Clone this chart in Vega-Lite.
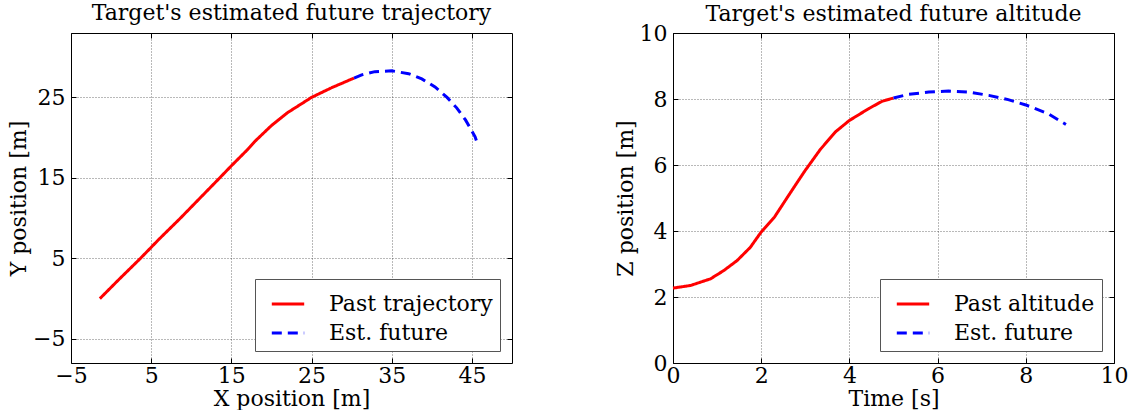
{
  "$schema": "https://vega.github.io/schema/vega-lite/v6.json",
  "background": "white",
  "padding": {"left": 7, "top": 1, "right": 0, "bottom": 0},
  "spacing": 100,
  "config": {
    "font": "DejaVu Serif",
    "view": {"stroke": "#000", "strokeWidth": 1},
    "style": {
      "guide-label": {"font": "DejaVu Serif", "fontSize": 22, "fill": "#000"},
      "guide-title": {"font": "DejaVu Serif", "fontSize": 22, "fontWeight": "normal", "fill": "#000"},
      "group-title": {"font": "DejaVu Serif", "fontSize": 22, "fontWeight": "normal", "fill": "#000"}
    },
    "title": {"font": "DejaVu Serif", "fontSize": 22, "fontWeight": "normal", "color": "#000", "anchor": "middle", "frame": "group"},
    "axis": {
      "labelFont": "DejaVu Serif", "labelFontSize": 22, "labelColor": "#000",
      "titleFont": "DejaVu Serif", "titleFontSize": 22, "titleFontWeight": "normal", "titleColor": "#000",
      "domain": false, "ticks": true, "tickColor": "#000", "tickSize": -5,
      "titlePadding": 2,
      "gridColor": "#000", "gridOpacity": 0.55, "gridDash": [1, 2], "gridWidth": 1,
      "labelFlush": false, "labelOverlap": false, "labelBound": false
    },
    "axisX": {"labelPadding": 7},
    "axisY": {"labelPadding": 11},
    "legend": {
      "orient": "bottom-right", "offset": 12, "title": null,
      "fillColor": "#fff", "strokeColor": "#555", "padding": 7, "cornerRadius": 0,
      "labelFont": "DejaVu Serif", "labelFontSize": 22, "labelColor": "#000", "labelLimit": 0,
      "symbolType": "stroke", "symbolStrokeWidth": 3, "symbolSize": 1050,
      "rowPadding": 0, "labelOffset": 23, "symbolOffset": 8
    },
    "line": {"strokeWidth": 3}
  },
  "resolve": {"scale": {"color": "independent", "strokeDash": "independent"}},
  "hconcat": [
    {
      "width": 441,
      "height": 330,
      "title": {"text": "Target's estimated future trajectory", "offset": 7.5},
      "data": {
        "values": [
          {"i": 0, "x": -1.4, "y": 0.0, "s": "Past trajectory"},
          {"i": 1, "x": 1.0, "y": 2.4, "s": "Past trajectory"},
          {"i": 2, "x": 3.66, "y": 5.0, "s": "Past trajectory"},
          {"i": 3, "x": 6.0, "y": 7.4, "s": "Past trajectory"},
          {"i": 4, "x": 8.6, "y": 9.95, "s": "Past trajectory"},
          {"i": 5, "x": 11.0, "y": 12.4, "s": "Past trajectory"},
          {"i": 6, "x": 13.5, "y": 14.95, "s": "Past trajectory"},
          {"i": 7, "x": 15.0, "y": 16.5, "s": "Past trajectory"},
          {"i": 8, "x": 16.9, "y": 18.4, "s": "Past trajectory"},
          {"i": 9, "x": 18.0, "y": 19.6, "s": "Past trajectory"},
          {"i": 10, "x": 20.0, "y": 21.5, "s": "Past trajectory"},
          {"i": 11, "x": 22.0, "y": 23.1, "s": "Past trajectory"},
          {"i": 12, "x": 25.0, "y": 25.0, "s": "Past trajectory"},
          {"i": 13, "x": 27.5, "y": 26.2, "s": "Past trajectory"},
          {"i": 14, "x": 30.3, "y": 27.4, "s": "Past trajectory"},
          {"i": 15, "x": 30.3, "y": 27.4, "s": "Est. future"},
          {"i": 16, "x": 31.25, "y": 27.8, "s": "Est. future"},
          {"i": 17, "x": 32.9, "y": 28.2, "s": "Est. future"},
          {"i": 18, "x": 35.0, "y": 28.3, "s": "Est. future"},
          {"i": 19, "x": 37.1, "y": 27.95, "s": "Est. future"},
          {"i": 20, "x": 38.75, "y": 27.3, "s": "Est. future"},
          {"i": 21, "x": 40.4, "y": 26.3, "s": "Est. future"},
          {"i": 22, "x": 41.9, "y": 25.0, "s": "Est. future"},
          {"i": 23, "x": 43.1, "y": 23.7, "s": "Est. future"},
          {"i": 24, "x": 44.2, "y": 22.2, "s": "Est. future"},
          {"i": 25, "x": 45.4, "y": 20.1, "s": "Est. future"},
          {"i": 26, "x": 45.6, "y": 19.5, "s": "Est. future"}
        ]
      },
      "resolve": {"axis": {"x": "independent", "y": "independent"}},
      "layer": [
        {
          "mark": {"type": "line", "strokeWidth": 3},
          "encoding": {
            "x": {"field": "x", "type": "quantitative", "title": "X position [m]",
                  "scale": {"domain": [-5, 50], "nice": false, "zero": false},
                  "axis": {"values": [-5, 5, 15, 25, 35, 45], "labelFont": "DejaVu Serif", "titleFont": "DejaVu Serif"}},
            "y": {"field": "y", "type": "quantitative", "title": "Y position [m]",
                  "scale": {"domain": [-8, 33], "nice": false, "zero": false},
                  "axis": {"values": [-5, 5, 15, 25], "labelFont": "DejaVu Serif", "titleFont": "DejaVu Serif"}},
            "order": {"field": "i", "type": "quantitative"},
            "color": {"field": "s", "type": "nominal",
                      "scale": {"domain": ["Past trajectory", "Est. future"], "range": ["#ff0000", "#0000ff"]}},
            "strokeDash": {"field": "s", "type": "nominal",
                           "scale": {"domain": ["Past trajectory", "Est. future"], "range": [[1, 0], [10, 6]]}}
          }
        },
        {
          "mark": {"type": "line", "opacity": 0},
          "encoding": {
            "x": {"field": "x", "type": "quantitative",
                  "axis": {"orient": "top", "values": [-5, 5, 15, 25, 35, 45], "labels": false, "grid": false, "title": null}},
            "y": {"field": "y", "type": "quantitative",
                  "axis": {"orient": "right", "values": [-5, 5, 15, 25], "labels": false, "grid": false, "title": null}},
            "order": {"field": "i", "type": "quantitative"}
          }
        }
      ]
    },
    {
      "width": 441,
      "height": 330,
      "title": {"text": "Target's estimated future altitude", "offset": -3.5},
      "data": {
        "values": [
          {"t": 0.0, "z": 2.27, "s": "Past altitude"},
          {"t": 0.4, "z": 2.35, "s": "Past altitude"},
          {"t": 0.85, "z": 2.55, "s": "Past altitude"},
          {"t": 1.15, "z": 2.8, "s": "Past altitude"},
          {"t": 1.45, "z": 3.1, "s": "Past altitude"},
          {"t": 1.75, "z": 3.5, "s": "Past altitude"},
          {"t": 2.0, "z": 3.97, "s": "Past altitude"},
          {"t": 2.3, "z": 4.42, "s": "Past altitude"},
          {"t": 2.5, "z": 4.83, "s": "Past altitude"},
          {"t": 2.8, "z": 5.44, "s": "Past altitude"},
          {"t": 3.0, "z": 5.84, "s": "Past altitude"},
          {"t": 3.34, "z": 6.47, "s": "Past altitude"},
          {"t": 3.68, "z": 7.0, "s": "Past altitude"},
          {"t": 4.0, "z": 7.35, "s": "Past altitude"},
          {"t": 4.44, "z": 7.71, "s": "Past altitude"},
          {"t": 4.74, "z": 7.93, "s": "Past altitude"},
          {"t": 5.0, "z": 8.03, "s": "Past altitude"},
          {"t": 5.0, "z": 8.03, "s": "Est. future"},
          {"t": 5.34, "z": 8.14, "s": "Est. future"},
          {"t": 5.8, "z": 8.21, "s": "Est. future"},
          {"t": 6.25, "z": 8.24, "s": "Est. future"},
          {"t": 6.7, "z": 8.21, "s": "Est. future"},
          {"t": 7.16, "z": 8.11, "s": "Est. future"},
          {"t": 7.6, "z": 7.98, "s": "Est. future"},
          {"t": 8.0, "z": 7.82, "s": "Est. future"},
          {"t": 8.5, "z": 7.56, "s": "Est. future"},
          {"t": 8.91, "z": 7.23, "s": "Est. future"}
        ]
      },
      "resolve": {"axis": {"x": "independent", "y": "independent"}},
      "layer": [
        {
          "mark": {"type": "line", "strokeWidth": 3},
          "encoding": {
            "x": {"field": "t", "type": "quantitative", "title": "Time [s]",
                  "scale": {"domain": [0, 10], "nice": false},
                  "axis": {"values": [0, 2, 4, 6, 8, 10], "labelFont": "DejaVu Serif", "titleFont": "DejaVu Serif"}},
            "y": {"field": "z", "type": "quantitative", "title": "Z position [m]",
                  "scale": {"domain": [0, 10], "nice": false},
                  "axis": {"values": [0, 2, 4, 6, 8, 10], "labelFont": "DejaVu Serif", "titleFont": "DejaVu Serif"}},
            "color": {"field": "s", "type": "nominal",
                      "scale": {"domain": ["Past altitude", "Est. future"], "range": ["#ff0000", "#0000ff"]}},
            "strokeDash": {"field": "s", "type": "nominal",
                           "scale": {"domain": ["Past altitude", "Est. future"], "range": [[1, 0], [10, 6]]}}
          }
        },
        {
          "mark": {"type": "line", "opacity": 0},
          "encoding": {
            "x": {"field": "t", "type": "quantitative",
                  "axis": {"orient": "top", "values": [0, 2, 4, 6, 8, 10], "labels": false, "grid": false, "title": null}},
            "y": {"field": "z", "type": "quantitative",
                  "axis": {"orient": "right", "values": [0, 2, 4, 6, 8, 10], "labels": false, "grid": false, "title": null}}
          }
        }
      ]
    }
  ]
}
